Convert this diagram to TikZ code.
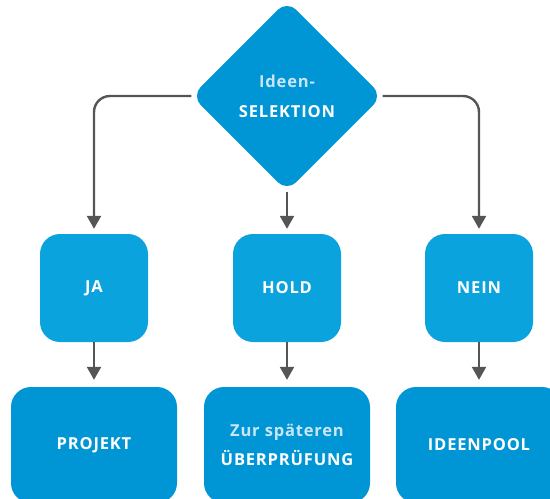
\documentclass[tikz,border=0pt]{standalone}
\usepackage{fontspec}
\setmainfont{Open Sans}[LetterSpace=5]
\usetikzlibrary{arrows.meta,shapes.geometric}
\definecolor{dblue}{HTML}{0096D6}
\definecolor{mblue}{HTML}{0AA3DE}
\definecolor{lighttxt}{HTML}{C8E6F7}
\definecolor{conn}{HTML}{555555}
\tikzset{
  decision/.style={diamond, aspect=1, fill=dblue, rounded corners=13pt, minimum width=191pt, minimum height=191pt, inner sep=0pt, text=white, font=\bfseries\fontsize{16.5}{30}\selectfont, align=center},
  midbox/.style={fill=mblue, rounded corners=20pt, minimum width=108pt, minimum height=108pt, inner sep=0pt, text=white, font=\bfseries\fontsize{16.5}{14}\selectfont},
  endbox/.style={fill=dblue, rounded corners=20pt, minimum width=166pt, minimum height=116pt, inner sep=0pt, text=white, font=\bfseries\fontsize{16.5}{29}\selectfont, align=center},
  link/.style={draw=conn, line width=2.4pt, rounded corners=16pt, -{Triangle[length=13pt,width=14pt]}}
}
\begin{document}
\begin{tikzpicture}[x=1pt,y=-1pt]
\useasboundingbox (0,0) rectangle (550,499);
\clip (0,0) rectangle (550,499);
\node[decision] (sel) at (287,96) {\textcolor{lighttxt}{Ideen-}\\SELEKTION};
\node[midbox] (ja) at (94,288) {JA};
\node[midbox] (hold) at (287,288) {HOLD};
\node[midbox] (nein) at (479,288) {NEIN};
\node[endbox] (projekt) at (94,445) {PROJEKT};
\node[endbox] (ueber) at (287,445) {\textcolor{lighttxt}{Zur späteren}\\ÜBERPRÜFUNG};
\node[endbox] (pool) at (479,445) {IDEENPOOL};
\draw[link, shorten >=5pt] (sel.west) -| (ja.north);
\draw[link, shorten >=5pt] (sel.east) -| (nein.north);
\draw[link, shorten >=5pt] (sel.south) -- (hold.north);
\draw[link, shorten >=7pt] (ja.south) -- (projekt.north);
\draw[link, shorten >=7pt] (hold.south) -- (ueber.north);
\draw[link, shorten >=7pt] (nein.south) -- (pool.north);
\end{tikzpicture}
\end{document}
